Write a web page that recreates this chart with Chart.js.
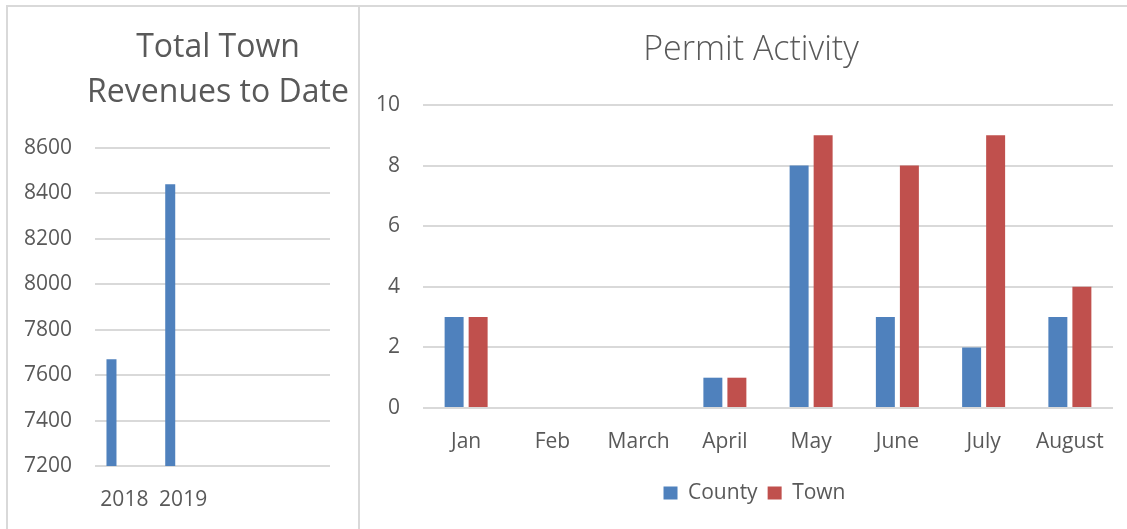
<!DOCTYPE html>
<html>
<head>
<meta charset="utf-8">
<script src="https://cdn.jsdelivr.net/npm/chart.js@4"></script>
<style>
  body { margin: 0; width: 1127px; height: 529px; overflow: hidden; background: #fff; position: relative; }
  #frame { position: absolute; left: 6px; top: 5px; width: 1200px; height: 600px;
           border-top: 2px solid #d9d9d9; border-left: 2px solid #d9d9d9; }
  #divider { position: absolute; left: 358px; top: 5px; width: 2px; height: 600px; background: #d9d9d9; }
  #leftBox { position: absolute; left: 8px; top: 7px; }
  #rightBox { position: absolute; left: 360px; top: 7px; }
</style>
</head>
<body>
<div id="frame"></div>
<div id="divider"></div>
<div id="leftBox"><canvas id="revenueChart" width="350" height="522"></canvas></div>
<div id="rightBox"><canvas id="permitChart" width="767" height="522"></canvas></div>

<script>
// revenue chart data (Excel left an empty series and two empty categories)
var revenueYears = ['2018', '2019', '', ''];
var revenueValues = [7670, 8440, null, null];
var emptySeries = [null, null, null, null];

// permit chart data
var permitMonths = ['Jan', 'Feb', 'March', 'April', 'May', 'June', 'July', 'August'];
var countyPermits = [3, 0, 0, 1, 8, 3, 2, 3];
var townPermits = [3, 0, 0, 1, 9, 8, 9, 4];

var textColor = '#595959';
var gridColor = '#d9d9d9';
var fontFamily = "'Open Sans', 'Noto Sans', sans-serif";

// move title / legend so they are centred on a given x (canvas px)
var centerBoxes = {
  id: 'centerBoxes',
  afterLayout: function (chart, args, opts) {
    var pairs = [[chart.titleBlock, opts.title], [chart.legend, opts.legend]];
    pairs.forEach(function (p) {
      var box = p[0], cx = p[1];
      if (!box || cx == null) return;
      var half = (box.right - box.left) / 2;
      box.left = cx - half;
      box.right = cx + half;
    });
  }
};

Chart.defaults.font.family = fontFamily;
Chart.defaults.color = textColor;

new Chart(document.getElementById('revenueChart'), {
  type: 'bar',
  data: {
    labels: revenueYears,
    datasets: [
      { label: 'Revenue', data: revenueValues, backgroundColor: '#4F81BD',
        categoryPercentage: 0.878, barPercentage: 0.388 },
      { label: '', data: emptySeries, backgroundColor: '#C0504D',
        categoryPercentage: 0.878, barPercentage: 0.388 }
    ]
  },
  options: {
    responsive: false,
    animation: false,
    layout: { padding: { left: 0, right: 28, top: 0, bottom: 0 } },
    plugins: {
      legend: { display: false },
      tooltip: { enabled: false },
      title: {
        display: true,
        text: ['Total Town', 'Revenues to Date'],
        color: textColor,
        font: { size: 32, weight: 'normal', lineHeight: 1.406 },
        padding: { top: 18, bottom: 33 }
      },
      centerBoxes: { title: 210 }
    },
    scales: {
      x: {
        grid: { display: false },
        border: { display: false },
        ticks: { color: textColor, font: { size: 21 }, padding: 13, maxRotation: 0 },
        afterFit: function (s) { s.height = 63; }
      },
      y: {
        min: 7200, max: 8600,
        grid: { color: gridColor, lineWidth: 2, drawTicks: false },
        border: { display: false },
        ticks: {
          stepSize: 200, color: textColor, font: { size: 21 }, padding: 23,
          callback: function (v) { return String(v); }
        },
        afterFit: function (s) { s.width = 87; }
      }
    }
  },
  plugins: [centerBoxes]
});

new Chart(document.getElementById('permitChart'), {
  type: 'bar',
  data: {
    labels: permitMonths,
    datasets: [
      { label: 'County', data: countyPermits, backgroundColor: '#4F81BD',
        categoryPercentage: 0.557, barPercentage: 0.79 },
      { label: 'Town', data: townPermits, backgroundColor: '#C0504D',
        categoryPercentage: 0.557, barPercentage: 0.79 }
    ]
  },
  options: {
    responsive: false,
    animation: false,
    layout: { padding: { left: 0, right: 14, top: 0, bottom: 15.5 } },
    plugins: {
      tooltip: { enabled: false },
      title: {
        display: true,
        text: 'Permit Activity',
        color: textColor,
        font: { size: 34, weight: '300', lineHeight: 1.2 },
        padding: { top: 23, bottom: 34.2 }
      },
      legend: {
        position: 'bottom',
        labels: { color: textColor, font: { size: 21 }, boxWidth: 14, boxHeight: 13, padding: 10 }
      },
      centerBoxes: { title: 391, legend: 394.5 }
    },
    scales: {
      x: {
        grid: { display: false },
        border: { display: false },
        ticks: { color: textColor, font: { size: 21 }, padding: 13, maxRotation: 0 },
        afterFit: function (s) { s.height = 64.5; }
      },
      y: {
        min: 0, max: 10,
        grid: { color: gridColor, lineWidth: 2, drawTicks: false },
        border: { display: false },
        ticks: { stepSize: 2, color: textColor, font: { size: 21 }, padding: 23 },
        afterFit: function (s) { s.width = 63; }
      }
    }
  },
  plugins: [centerBoxes]
});
</script>
</body>
</html>
